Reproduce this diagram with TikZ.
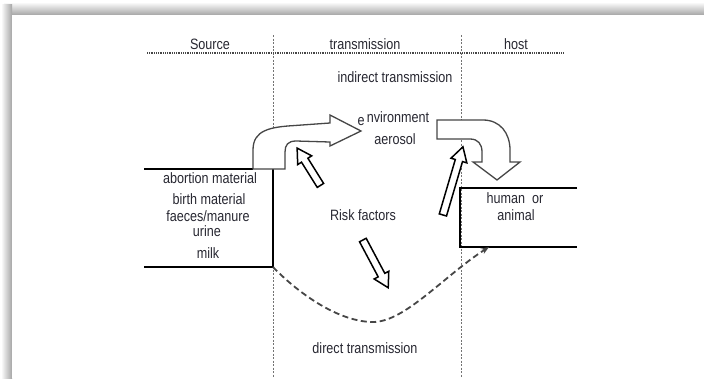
\documentclass[tikz,border=0pt]{standalone}
\usepackage{fontspec}
\setmainfont{Liberation Sans}[FakeStretch=0.84]
\usepackage{tikz}
\usetikzlibrary{arrows.meta, positioning, shapes.arrows, calc}
\definecolor{textgray}{RGB}{40,40,50}
\definecolor{linegray}{RGB}{70,70,70}
\definecolor{shadowgray}{RGB}{165,165,165}

\begin{document}
\begin{tikzpicture}[x=1pt, y=-1pt,
    lbl/.style={font=\fontsize{15}{17}\selectfont, text=textgray, text height=10.5pt, text depth=0pt, inner sep=0pt},
    boxline/.style={line width=2.2pt, black},
    zoneline/.style={gray!90!black, line width=0.9pt, dash pattern=on 2pt off 1.5pt},
    headline/.style={linegray, line width=1.4pt, dash pattern=on 1pt off 0.8pt},
    bigarrow/.style={draw=linegray, line width=1.3pt, fill=white, line join=miter},
    riskarrow/.style={single arrow, draw=black, line width=1.5pt, fill=white, inner sep=3pt,
        single arrow head extend=4.5pt, single arrow tip angle=60, minimum height=#1},
    riskarrow/.default=50,
    direct/.style={linegray, line width=1.8pt, dash pattern=on 6pt off 3.5pt, -{Stealth[length=8pt, width=6pt]}}
]

% page with shadow
\useasboundingbox (0,0) rectangle (704,378);
\shade[top color=white, bottom color=shadowgray] (4,2) rectangle (704,15);
\shade[left color=white, right color=shadowgray] (1,4) rectangle (12,378);
\fill[white] (12,15) rectangle (704,378);

% zones
\draw[zoneline] (273,35) -- (273,378);
\draw[zoneline] (461,35) -- (461,378);
\draw[headline] (147,53) -- (564,53);
\node[lbl] (source) at (210,44) {Source};
\node[lbl] (trans) at (365,44) {transmission};
\node[lbl] (host) at (516,44) {host};
\node[lbl] (indirect) at (395,77) {indirect transmission};

% Source box
\coordinate (srcTL) at (144,169);
\coordinate (srcTR) at (273,169);
\coordinate (srcBR) at (273,267);
\coordinate (srcBL) at (144,267);
\draw[boxline] (srcTL) -- (253,169);
\draw[boxline] (srcTR) -- (srcBR) -- (srcBL);
\node[lbl] (abortion) at (210,178) {abortion material};
\node[lbl] (birth) at (209,199) {birth material};
\node[lbl] (faeces) at (208,216) {faeces/manure};
\node[lbl] (urine) at (207,231) {urine};
\node[lbl] (milk) at (208,253) {milk};

% Host box
\coordinate (hostTR) at (577,188);
\coordinate (hostTL) at (460,188);
\coordinate (hostBL) at (460,247);
\coordinate (hostBR) at (577,247);
\draw[boxline] (hostTR) -- (hostTL) -- (hostBL) -- (hostBR);
\node[lbl] (human) at (515,198) {human\ \ or};
\node[lbl] (animal) at (516,215) {animal};

% environment
\node[lbl] (e) at (361,120) {e};
\node[lbl] (env) at (398,117) {nvironment};
\node[lbl] (aerosol) at (395,139) {aerosol};

% source -> environment
\draw[bigarrow] (253,169) -- (253,150) .. controls (253,130) and (270,127) .. (295,125.5)
    -- (330,123) -- (330,115) -- (361,131) -- (330,146) -- (330,142) -- (296,141)
    .. controls (288,141) and (285,145) .. (285,152) -- (285,169) -- cycle;

% environment -> host
\draw[bigarrow] (437,120) -- (483,120) .. controls (500,120) and (510,133) .. (510,150)
    -- (510,162) -- (520,162) -- (497,180) -- (473,162) -- (482,162) -- (482,152)
    .. controls (482,144) and (478,139) .. (470,139) -- (437,139) -- cycle;

% Risk factors
\node[lbl] (risk) at (363,215) {Risk factors};
\node[riskarrow=44, rotate=122] (riskA) at (310.5,169.5) {};
\node[riskarrow=71, rotate=73.6] (riskB) at (452,184) {};
\node[riskarrow=54, rotate=-62] (riskC) at (374,261) {};

% direct transmission
\coordinate (hostin) at (489,247);
\draw[direct] (srcBR) .. controls (300,295) and (340,322) .. (373,322)
    .. controls (405,322) and (445,275) .. (hostin);
\node[lbl] (direct) at (365,348) {direct transmission};

\end{tikzpicture}
\end{document}
